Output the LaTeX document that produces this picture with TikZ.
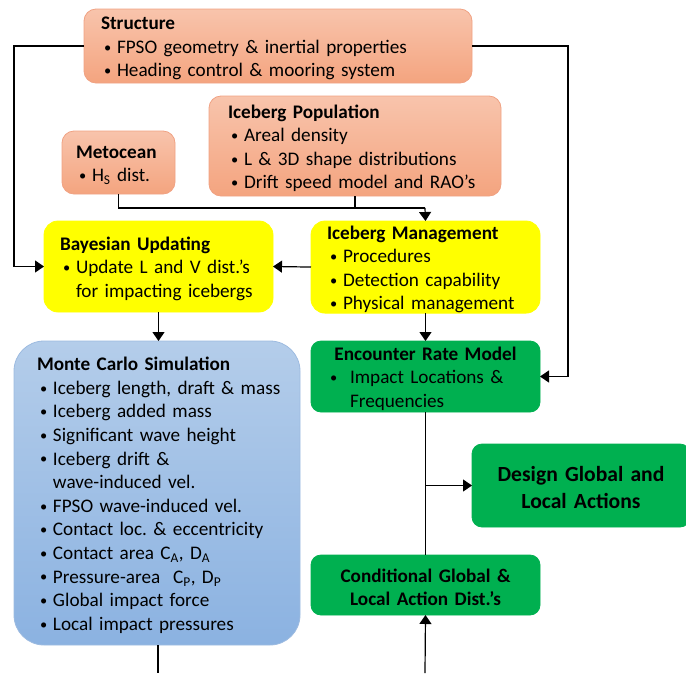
\documentclass[tikz,border=0pt]{standalone}
\usepackage{graphicx}
\usepackage{fontspec}
\setmainfont{Carlito}
\frenchspacing
\usetikzlibrary{arrows.meta}
\definecolor{orT}{HTML}{F8C4AC}
\definecolor{orB}{HTML}{F4A47F}
\definecolor{orE}{HTML}{F0A283}
\definecolor{ylw}{HTML}{FFFF00}
\definecolor{grn}{HTML}{00B050}
\definecolor{blT}{HTML}{B4CDEA}
\definecolor{blB}{HTML}{8BB2E1}
\definecolor{blE}{HTML}{9DBBE0}
\newcommand{\smbul}{\raisebox{0.12ex}{\scalebox{0.75}{\textbullet}}}
\newcommand{\bi}[1]{\mbox{\hspace*{3pt}\makebox[13pt][l]{\smbul}#1}}
\newcommand{\ci}[1]{\mbox{\hspace*{16pt}#1}}
\tikzset{
  box/.style={anchor=north west, align=left, inner ysep=0pt, outer sep=0pt, line width=0.8pt},
  orbox/.style={box, draw=orE, top color=orT, bottom color=orB, rounded corners=12pt},
  ylbox/.style={box, draw=ylw, fill=ylw, rounded corners=14pt},
  grbox/.style={box, draw=grn, fill=grn, rounded corners=10pt},
  blbox/.style={box, draw=blE, top color=blT, bottom color=blB, rounded corners=30pt},
  conn/.style={line width=1.2pt},
  arr/.style={conn, -{Triangle[length=9pt,width=12pt]}},
}
\newcommand{\dn}{\rule{0pt}{18pt}}
\begin{document}
\begin{tikzpicture}[x=1pt,y=-1pt,font=\fontsize{19.2}{23.6}\selectfont]
\useasboundingbox (0,0) rectangle (686,673);
\clip (0,0) rectangle (686,673);
% boxes
\node[orbox, minimum width=388pt, minimum height=74pt, inner xsep=17pt, text width=354pt] (str) at (84,9)
  {\dn\textbf{Structure}\\ \bi{FPSO geometry \& inertial properties}\\ \bi{Heading control \& mooring system}};
\node[orbox, minimum width=292pt, minimum height=100pt, inner xsep=19pt, text width=254pt] (pop) at (209,96)
  {\dn\textbf{Iceberg Population}\\ \bi{Areal density}\\ \bi{L \& 3D shape distributions}\\ \bi{Drift speed model and RAO’s}};
\node[orbox, minimum width=113pt, minimum height=63pt, inner xsep=14pt, text width=85pt] (met) at (62,131)
  {\dn\textbf{Metocean}\\ \bi{H\textsubscript{S} dist.}};
\node[ylbox, minimum width=229pt, minimum height=91pt, inner xsep=16pt, text width=197pt] (bay) at (44,221)
  {\dn\textbf{Bayesian Updating}\\ \bi{Update L and V dist.’s}\\ \ci{for impacting icebergs}};
\node[ylbox, minimum width=229pt, minimum height=91pt, inner xsep=16pt, text width=197pt] (mgt) at (311,221)
  {\dn\textbf{Iceberg Management}\\ \bi{Procedures}\\ \bi{Detection capability}\\ \bi{Physical management}};
\node[blbox, minimum width=286pt, minimum height=304pt, inner xsep=23pt, text width=240pt] (mc) at (14,341)
  {\dn\textbf{Monte Carlo Simulation}\\
   \bi{Iceberg length, draft \& mass}\\
   \bi{Iceberg added mass}\\
   \bi{Significant wave height}\\
   \bi{Iceberg drift \&}\\
   \ci{wave-induced vel.}\\
   \bi{FPSO wave-induced vel.}\\
   \bi{Contact loc. \& eccentricity}\\
   \bi{Contact area C\textsubscript{A}, D\textsubscript{A}}\\
   \bi{Pressure-area\ \ C\textsubscript{P}, D\textsubscript{P}}\\
   \bi{Global impact force}\\
   \bi{Local impact pressures}};
\node[grbox, minimum width=229pt, minimum height=71pt, inner xsep=16pt, text width=197pt] (enc) at (311,341)
  {\dn\makebox[\linewidth][c]{\textbf{Encounter Rate Model}}\\
   \mbox{\hspace*{3pt}\makebox[20pt][l]{\smbul}Impact Locations \&}\\ \mbox{\hspace*{23pt}Frequencies}};
\node[grbox, minimum width=218pt, minimum height=83pt, inner xsep=8pt, text width=202pt, align=center,
      font=\fontsize{21.6}{27}\selectfont\bfseries] (des) at (472,444)
  {\rule{0pt}{20pt}Design Global and\\ Local Actions};
\node[grbox, minimum width=229pt, minimum height=60pt, inner xsep=8pt, text width=213pt, align=center,
      font=\fontsize{19.2}{23}\selectfont\bfseries] (cnd) at (311,555)
  {\dn Conditional Global \&\\ Local Action Dist.’s};
% connectors
\coordinate (j) at (425,208);
\coordinate (mcb) at (158,673);
\coordinate (cb) at (425,673);
\draw[arr] (str.west) -- (14,46) |- (bay.west);
\draw[arr] (str.east) -- (568,46) |- (enc.east);
\draw[conn] (met.south) |- (j);
\draw[conn] (pop.south) -- (pop.south |- j);
\draw[arr] (j) -- (mgt.north);
\draw[arr] (mgt.west) -- (bay.east);
\draw[arr] (bay.south) -- (bay.south |- mc.north);
\draw[conn] (mc.south -| mcb) -- (mcb);
\draw[arr] (mgt.south) -- (enc.north);
\draw[conn] (enc.south) -- (cnd.north);
\draw[arr] (enc.south |- des.west) -- (des.west);
\draw[arr] (cb) -- (cnd.south);
\end{tikzpicture}
\end{document}
